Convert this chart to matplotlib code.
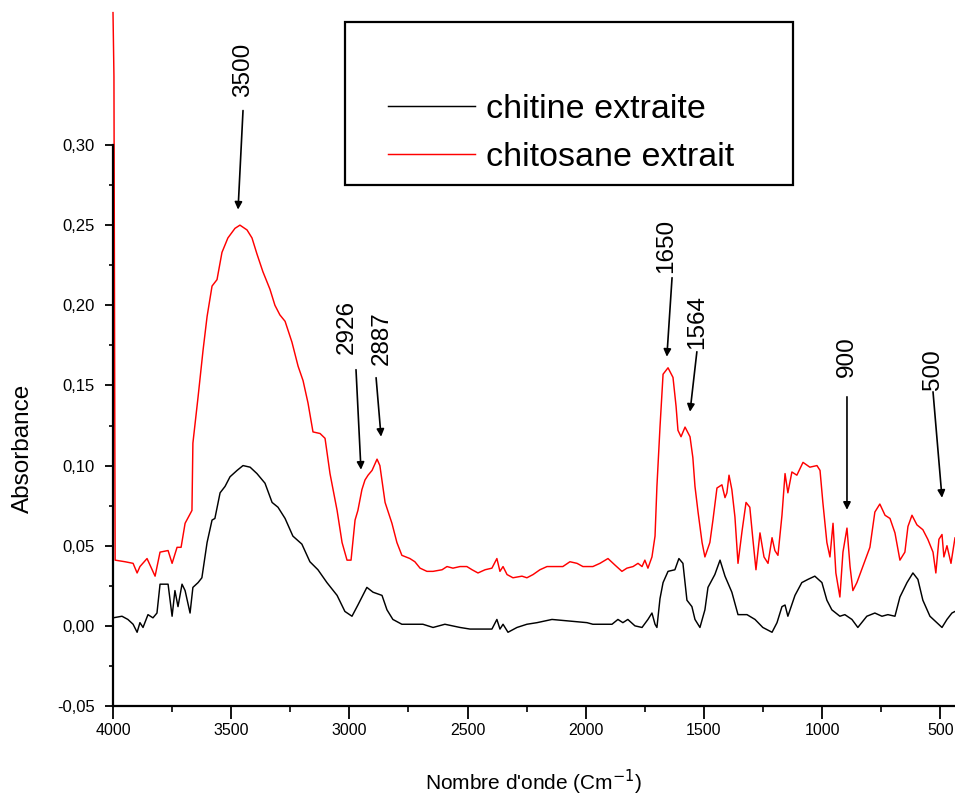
import matplotlib
matplotlib.use("Agg")
import matplotlib.pyplot as plt
from matplotlib.ticker import MultipleLocator, FuncFormatter
from matplotlib.patches import Rectangle

plt.rcParams['font.family'] = ['Liberation Sans', 'DejaVu Sans']

# ---- data ----
chitosane_wn = [4000, 3996, 3991, 3949, 3915, 3898, 3886, 3856, 3822, 3801, 3767, 3750, 3729, 3712,
                3695, 3666, 3662, 3640, 3619, 3602, 3581, 3560, 3539, 3514, 3484, 3463, 3433, 3412,
                3391, 3366, 3336, 3315, 3294, 3272, 3243, 3217, 3196, 3175, 3154, 3124, 3103, 3082,
                3052, 3031, 3010, 2993, 2976, 2964, 2947, 2934, 2921, 2904, 2883, 2871, 2849, 2820,
                2799, 2778, 2744, 2723, 2701, 2672, 2646, 2608, 2587, 2562, 2532, 2503, 2481, 2456,
                2426, 2397, 2376, 2363, 2350, 2333, 2308, 2270, 2249, 2223, 2194, 2164, 2097, 2067,
                2037, 2012, 1970, 1940, 1906, 1877, 1847, 1826, 1800, 1779, 1762, 1750, 1737, 1720,
                1707, 1699, 1686, 1673, 1652, 1631, 1618, 1610, 1597, 1580, 1559, 1547, 1538, 1525,
                1508, 1496, 1475, 1462, 1445, 1424, 1411, 1403, 1394, 1382, 1369, 1356, 1339, 1322,
                1306, 1293, 1280, 1263, 1246, 1229, 1212, 1200, 1187, 1170, 1157, 1145, 1128, 1107,
                1081, 1052, 1022, 1009, 997, 980, 967, 954, 942, 925, 912, 895, 882, 870, 853, 828,
                798, 777, 756, 734, 713, 692, 671, 650, 637, 620, 599, 574, 553, 531, 519, 506, 493,
                485, 472, 455, 438, 430]
chitosane_abs = [0.3826, 0.343, 0.041, 0.040, 0.039, 0.033, 0.037, 0.042, 0.031, 0.046, 0.047, 0.039,
                 0.049, 0.049, 0.064, 0.072, 0.114, 0.143, 0.172, 0.193, 0.212, 0.216, 0.233, 0.242,
                 0.248, 0.250, 0.247, 0.242, 0.232, 0.221, 0.210, 0.200, 0.194, 0.190, 0.177, 0.162,
                 0.153, 0.139, 0.121, 0.120, 0.117, 0.095, 0.072, 0.052, 0.041, 0.041, 0.066, 0.072,
                 0.085, 0.091, 0.094, 0.097, 0.104, 0.100, 0.077, 0.064, 0.052, 0.044, 0.042, 0.040,
                 0.036, 0.034, 0.034, 0.035, 0.037, 0.036, 0.037, 0.037, 0.035, 0.033, 0.035, 0.036,
                 0.042, 0.034, 0.037, 0.032, 0.030, 0.031, 0.030, 0.032, 0.035, 0.037, 0.037, 0.040,
                 0.039, 0.037, 0.037, 0.039, 0.042, 0.038, 0.034, 0.036, 0.037, 0.039, 0.037, 0.041,
                 0.036, 0.043, 0.056, 0.087, 0.124, 0.157, 0.161, 0.155, 0.137, 0.122, 0.118, 0.124,
                 0.118, 0.105, 0.087, 0.071, 0.052, 0.043, 0.052, 0.066, 0.086, 0.088, 0.080, 0.083,
                 0.094, 0.085, 0.068, 0.039, 0.059, 0.077, 0.074, 0.054, 0.035, 0.058, 0.043, 0.039,
                 0.055, 0.047, 0.044, 0.069, 0.095, 0.083, 0.096, 0.094, 0.102, 0.099, 0.100, 0.097,
                 0.077, 0.052, 0.043, 0.064, 0.033, 0.018, 0.046, 0.061, 0.037, 0.022, 0.027, 0.037,
                 0.049, 0.071, 0.076, 0.069, 0.067, 0.058, 0.041, 0.046, 0.062, 0.069, 0.063, 0.060,
                 0.054, 0.046, 0.033, 0.054, 0.057, 0.043, 0.050, 0.039, 0.055, 0.055]

chitine_wn = [4000, 3962, 3937, 3915, 3898, 3886, 3873, 3852, 3831, 3814, 3801, 3767, 3750, 3738,
              3725, 3708, 3695, 3674, 3662, 3640, 3624, 3602, 3581, 3569, 3547, 3526, 3505, 3475,
              3450, 3420, 3391, 3357, 3327, 3302, 3272, 3239, 3201, 3167, 3133, 3095, 3052, 3019,
              2989, 2964, 2926, 2900, 2862, 2841, 2816, 2778, 2744, 2731, 2689, 2646, 2596, 2532,
              2490, 2397, 2376, 2363, 2350, 2329, 2291, 2249, 2206, 2143, 1995, 1970, 1889, 1864,
              1843, 1822, 1792, 1762, 1737, 1720, 1707, 1699, 1686, 1673, 1652, 1623, 1606, 1589,
              1572, 1551, 1538, 1517, 1496, 1483, 1454, 1432, 1411, 1382, 1356, 1318, 1284, 1251,
              1212, 1191, 1170, 1157, 1145, 1115, 1086, 1060, 1031, 1001, 980, 959, 925, 904, 874,
              849, 811, 777, 747, 722, 692, 671, 641, 616, 595, 574, 544, 515, 493, 472, 451, 438,
              430]
chitine_abs = [0.005, 0.006, 0.004, 0.001, -0.004, 0.002, -0.001, 0.007, 0.005, 0.008, 0.026, 0.026,
               0.006, 0.022, 0.012, 0.026, 0.022, 0.008, 0.024, 0.027, 0.030, 0.052, 0.066, 0.067,
               0.083, 0.087, 0.093, 0.097, 0.100, 0.099, 0.095, 0.089, 0.077, 0.074, 0.067, 0.056,
               0.051, 0.040, 0.035, 0.027, 0.019, 0.009, 0.006, 0.013, 0.024, 0.021, 0.019, 0.010,
               0.004, 0.001, 0.001, 0.001, 0.001, -0.001, 0.001, -0.001, -0.002, -0.002, 0.004,
               -0.002, 0.001, -0.004, -0.001, 0.001, 0.002, 0.004, 0.002, 0.001, 0.001, 0.004,
               0.002, 0.004, 0.000, -0.001, 0.004, 0.008, 0.001, -0.001, 0.017, 0.027, 0.034, 0.035,
               0.042, 0.039, 0.016, 0.012, 0.004, -0.001, 0.010, 0.024, 0.032, 0.041, 0.031, 0.021,
               0.007, 0.007, 0.004, -0.001, -0.004, 0.002, 0.012, 0.013, 0.006, 0.019, 0.027, 0.029,
               0.031, 0.027, 0.016, 0.010, 0.006, 0.007, 0.004, -0.001, 0.006, 0.008, 0.006, 0.007,
               0.006, 0.018, 0.027, 0.033, 0.029, 0.016, 0.006, 0.002, -0.001, 0.004, 0.008, 0.009,
               0.009]

series_labels = ["chitine extraite", "chitosane extrait"]

# peak annotations: label, text centre (wn, abs), arrow tail (wn, abs), arrow head (wn, abs)
peak_labels = ["3500", "2926", "2887", "1650", "1564", "900", "500"]
peak_text = [(3450, 0.347), (3010, 0.1866), (2862, 0.1798), (1661, 0.2372), (1530, 0.1898),
             (895, 0.1679), (531, 0.1598)]
peak_tail = [(3450, 0.3215), (2972, 0.1598), (2887, 0.1548), (1635, 0.2172), (1530, 0.171),
             (895, 0.1429), (531, 0.146)]
peak_head = [(3471, 0.2597), (2951, 0.0974), (2866, 0.118), (1657, 0.1679), (1559, 0.1336),
             (895, 0.0724), (493, 0.0799)]

xticks = [4000, 3500, 3000, 2500, 2000, 1500, 1000, 500]

# ---- figure ----
W, H = 955, 798
AX_TOP, AX_BOT, AX_LEFT = 145, 706, 113
fig = plt.figure(figsize=(W / 100, H / 100), dpi=100)
ax = fig.add_axes([AX_LEFT / W, 1 - AX_BOT / H, (W - AX_LEFT) / W, (AX_BOT - AX_TOP) / H])

line_black, = ax.plot(chitine_wn, chitine_abs, color='black', lw=1.05)
line_red, = ax.plot(chitosane_wn, chitosane_abs, color='#ff0000', lw=1.05, clip_on=False)

ax.set_xlim(4000, 438)
ax.set_ylim(-0.05, 0.30)

for s in ['top', 'right']:
    ax.spines[s].set_visible(False)
for s in ['left', 'bottom']:
    ax.spines[s].set_linewidth(1.6)

ax.set_xticks(xticks)
ax.xaxis.set_minor_locator(MultipleLocator(250))
ax.yaxis.set_major_locator(MultipleLocator(0.05))
ax.yaxis.set_minor_locator(MultipleLocator(0.025))


def comma_fmt(v, pos):
    if abs(v) < 1e-9:
        v = 0.0
    return f"{v:.2f}".replace('.', ',')


ax.yaxis.set_major_formatter(FuncFormatter(comma_fmt))
ax.tick_params(axis='x', which='major', direction='out', length=9, width=1.3, labelsize=11.5, pad=3)
ax.tick_params(axis='x', which='minor', direction='out', length=4.5, width=1.2)
ax.tick_params(axis='y', which='major', direction='out', length=6, width=1.3, labelsize=12, pad=7)
ax.tick_params(axis='y', which='minor', direction='out', length=3, width=1.2)

ax_h = AX_BOT - AX_TOP
ax.set_xlabel("Nombre d'onde (Cm$^{-1}$)", fontsize=15)
ax.set_ylabel("Absorbance", fontsize=17.5)
ax.xaxis.set_label_coords(0.5, (AX_BOT - 768) / ax_h)
ax.yaxis.set_label_coords((34 - AX_LEFT) / (W - AX_LEFT), (AX_BOT - 448) / ax_h)

# peak annotations
for lab, (tx, ty), tail, head in zip(peak_labels, peak_text, peak_tail, peak_head):
    ax.text(tx, ty, lab, rotation=90, ha='center', va='center', fontsize=17.5)
    ax.annotate('', xy=head, xytext=tail, annotation_clip=False,
                arrowprops=dict(arrowstyle='-|>', color='black', lw=1.2,
                                mutation_scale=11, shrinkA=0, shrinkB=0))

# legend (framed box with empty upper part, as in the original)
fig.add_artist(Rectangle((345 / W, 1 - 185 / H), (793 - 345) / W, (185 - 22) / H,
                         transform=fig.transFigure, fill=False, edgecolor='black', lw=1.6))
ax.legend([line_black, line_red], series_labels, loc='upper left',
          bbox_to_anchor=(388 / W, 1 - 94 / H), bbox_transform=fig.transFigure,
          frameon=False, fontsize=24.5, handlelength=2.55, handletextpad=0.33,
          borderpad=0, borderaxespad=0, labelspacing=0.5)

fig.savefig("out.png", dpi=100)
